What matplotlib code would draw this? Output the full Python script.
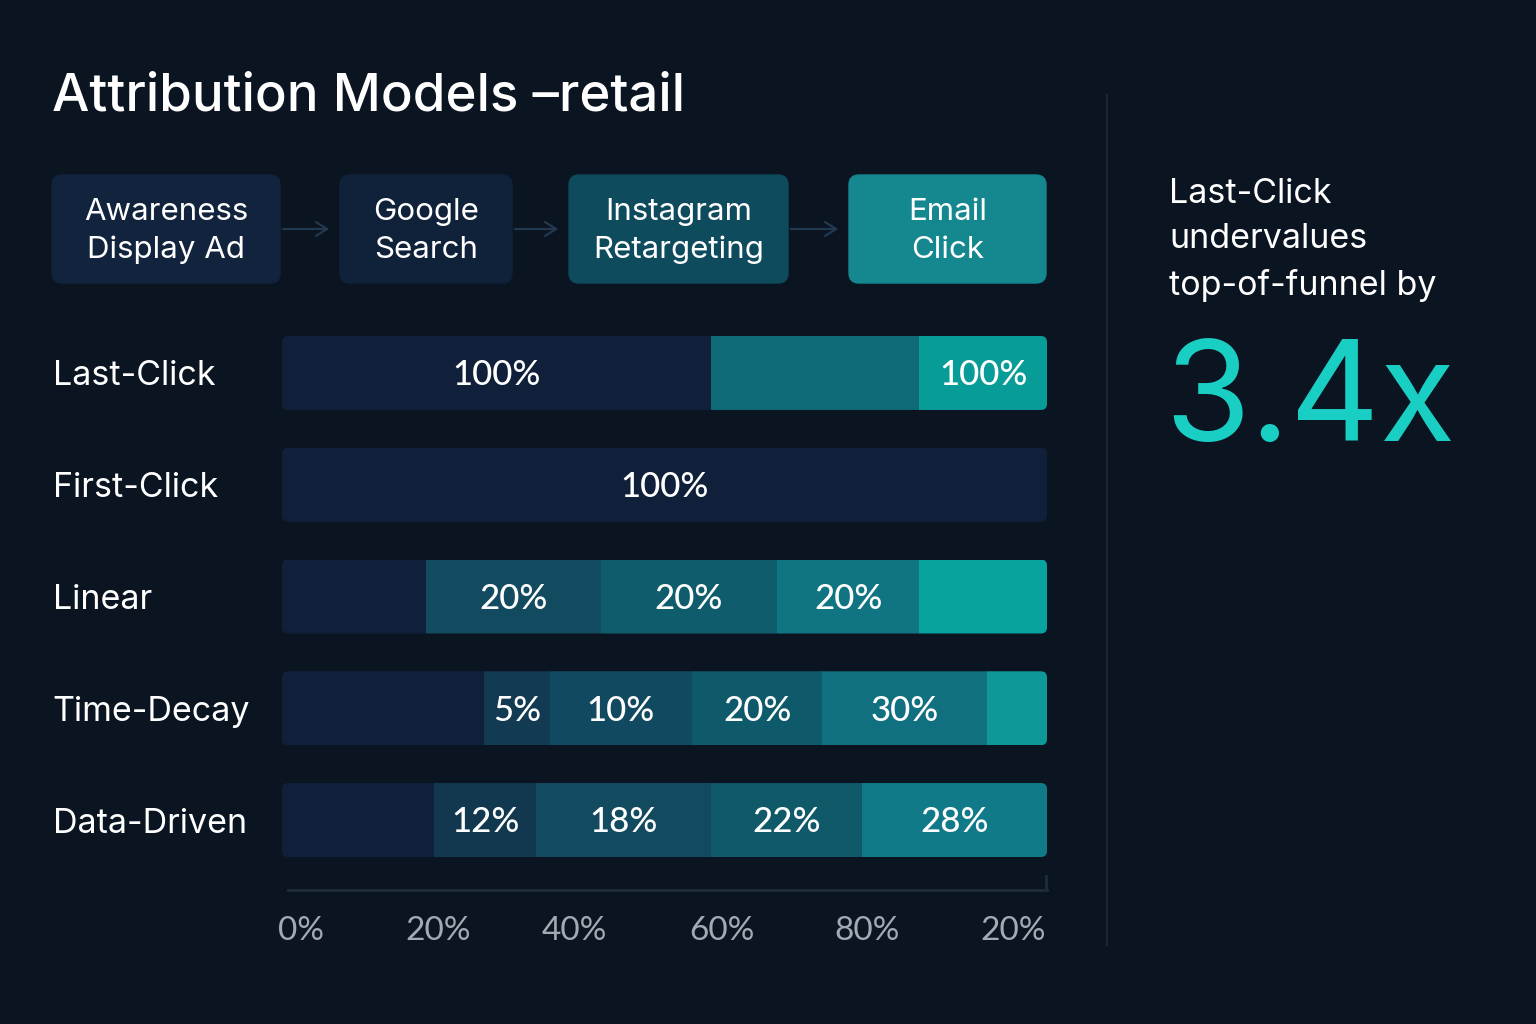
import numpy as np
import matplotlib
matplotlib.use("Agg")
import matplotlib.pyplot as plt
from matplotlib.patches import FancyBboxPatch

plt.rcParams['font.family'] = ['Inter', 'DejaVu Sans']

# ---- data ----
title = "Attribution Models \u2013retail"
touchpoints = ["Awareness\nDisplay Ad", "Google\nSearch", "Instagram\nRetargeting", "Email\nClick"]
models = ["Last-Click", "First-Click", "Linear", "Time-Decay", "Data-Driven"]

# segment widths as drawn (share of the bar, 0-100)
last_click = [56.1, 27.2, 16.7]
first_click = [100.0]
linear = [18.8, 22.9, 23.0, 18.6, 16.7]
time_decay = [26.4, 8.6, 18.6, 17.0, 21.6, 7.8]
data_driven = [19.9, 13.3, 22.9, 19.7, 24.2]

last_click_lbl = ["100%", "", "100%"]
first_click_lbl = ["100%"]
linear_lbl = ["", "20%", "20%", "20%", ""]
time_decay_lbl = ["", "5%", "10%", "20%", "30%", ""]
data_driven_lbl = ["", "12%", "18%", "22%", "28%"]

tick_pos = [2.5, 20.4, 38.2, 57.5, 76.5, 95.6]
tick_lbl = ["0%", "20%", "40%", "60%", "80%", "20%"]

callout = "Last-Click\nundervalues\ntop-of-funnel by"
callout_value = "3.4x"

# ---- styles ----
BG = "#0b1421"
NAVY = "#11203a"
row_colors = [
    [NAVY, "#0f6a78", "#089c98"],
    [NAVY],
    [NAVY, "#124a60", "#0f5d6c", "#117482", "#08a39e"],
    [NAVY, "#123a52", "#114a60", "#0f5a6a", "#117080", "#0f9898"],
    [NAVY, "#12384f", "#124a60", "#0f5969", "#117a88"],
]
box_colors = ["#12243d", "#10213a", "#0e4b5d", "#14878f"]
box_x = [(52, 280), (340, 512), (569, 788), (849, 1046)]

rows = [last_click, first_click, linear, time_decay, data_driven]
row_lbls = [last_click_lbl, first_click_lbl, linear_lbl, time_decay_lbl, data_driven_lbl]

fig = plt.figure(figsize=(15.36, 10.24), dpi=100, facecolor=BG)

# background / decoration layer in pixel coordinates
bg = fig.add_axes([0, 0, 1, 1])
bg.set_xlim(0, 1536)
bg.set_ylim(1024, 0)
bg.axis('off')
bg.set_facecolor(BG)

bg.text(52, 97, title, fontsize=38, color='white', va='center', ha='left',
        fontweight='medium')

for i, (txt, (x0, x1), c) in enumerate(zip(touchpoints, box_x, box_colors)):
    bg.add_patch(FancyBboxPatch((x0, 175), x1 - x0, 108,
                                boxstyle="round,pad=0,rounding_size=10",
                                facecolor=c, edgecolor=c, lw=1))
    bg.text((x0 + x1) / 2, 231, txt, fontsize=22.5, color='white',
            ha='center', va='center', linespacing=1.42)
    if i < len(box_x) - 1:
        nx = box_x[i + 1][0]
        bg.annotate("", xy=(nx - 8, 229), xytext=(x1, 229),
                    arrowprops=dict(arrowstyle="->,head_length=0.8,head_width=0.5",
                                    color="#22384f", lw=1.6))

# separator
bg.plot([1107, 1107], [95, 945], color="#1a2535", lw=1.5)

bg.text(1169, 240, callout, fontsize=24.5, color='white', ha='left', va='center',
        linespacing=1.53)
bg.text(1164, 404, callout_value, fontsize=100, color="#19cfc4", ha='left',
        va='center', fontweight='normal')

# axis end tick
bg.plot([1046, 1046], [876, 889], color="#1f2c3d", lw=2)

# ---- bar chart ----
ax = fig.add_axes([282 / 1536, 1 - 890 / 1024, 765 / 1536, 570 / 1024])
ax.set_facecolor('none')
ax.set_xlim(0, 100)
ax.set_ylim(4.626, -0.474)
h = 0.662

for i, (vals, lbls, cols) in enumerate(zip(rows, row_lbls, row_colors)):
    vals = np.array(vals)
    lefts = np.concatenate([[0], np.cumsum(vals)[:-1]])
    clip = FancyBboxPatch((0, i - h / 2), 100, h,
                          boxstyle="round,pad=0,rounding_size=0.8",
                          mutation_aspect=0.0685, facecolor='none',
                          edgecolor='none', transform=ax.transData)
    ax.add_patch(clip)
    bars = ax.barh(i, vals, left=lefts, height=h, color=cols, edgecolor='none')
    for b in bars:
        b.set_clip_path(clip)
    for l, w, t in zip(lefts, vals, lbls):
        if t:
            ax.text(l + w / 2, i + 0.02, t, ha='center', va='center', color='white',
                    fontsize=25, family=['Lato', 'DejaVu Sans'], fontweight='medium')

for s in ['top', 'right', 'left']:
    ax.spines[s].set_visible(False)
ax.spines['bottom'].set_color("#1f2c3d")
ax.spines['bottom'].set_linewidth(2)
ax.spines['bottom'].set_bounds(0.8, 100)

ax.set_xticks(tick_pos, tick_lbl)
ax.tick_params(axis='x', length=0, pad=19, labelsize=24, labelcolor="#a3aab5")
for lbl in ax.get_xticklabels():
    lbl.set_family(['Lato', 'DejaVu Sans'])

ax.set_yticks(range(len(models)), models)
ax.tick_params(axis='y', length=0, pad=165, labelsize=24.5, labelcolor='white')
for lbl in ax.get_yticklabels():
    lbl.set_ha('left')

fig.savefig("out.png", dpi=100, facecolor=BG)
